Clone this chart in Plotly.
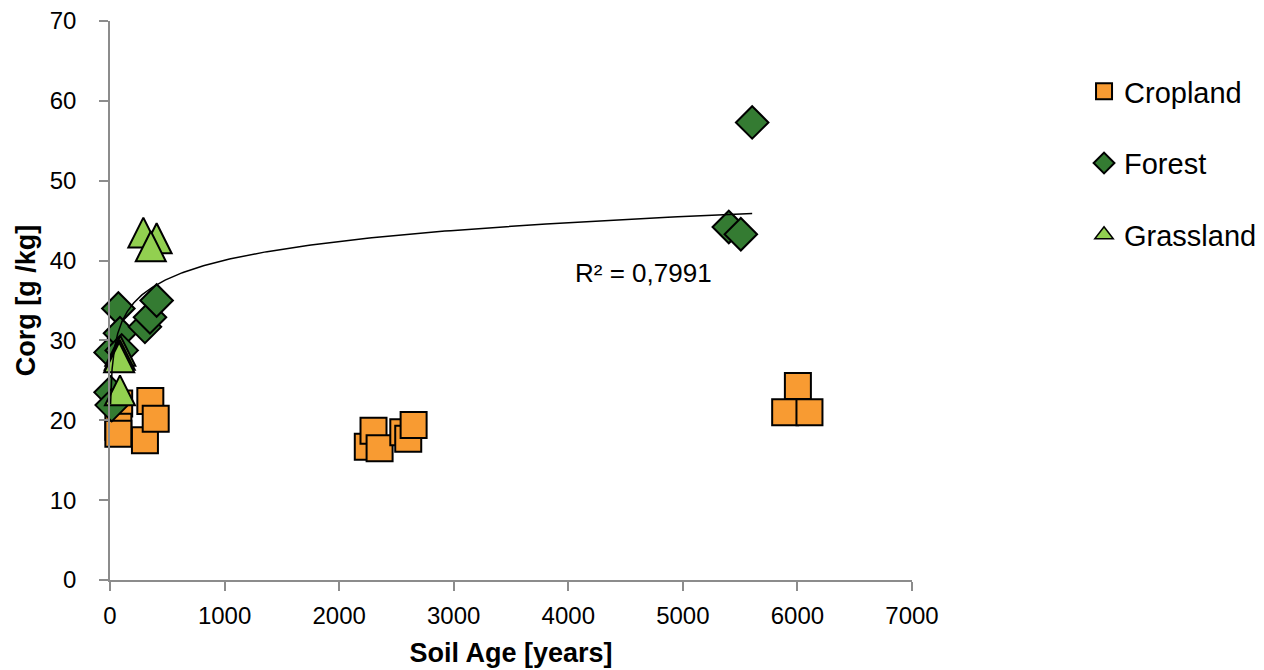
import numpy as np
import plotly.graph_objects as go

# ---- data ----
crop_age = [80, 73, 73, 305, 352, 399, 2250, 2300, 2353, 2560, 2603, 2650, 5893, 6004, 6105]
crop_corg = [22.1, 19.2, 18.3, 17.5, 22.4, 20.2, 16.7, 18.7, 16.5, 18.5, 17.7, 19.4, 21.0, 24.3, 21.0]

forest_age = [5, 5, 15, 73, 87, 102, 305, 349, 407, 5401, 5506, 5605]
forest_corg = [28.5, 23.5, 21.9, 34.0, 30.9, 28.75, 31.7, 32.9, 35.0, 44.2, 43.3, 57.3]

grass_age = [291, 407, 356, 90, 85, 80, 87]
grass_corg = [43.5, 42.8, 41.8, 28.7, 28.2, 27.9, 23.75]

x_ticks = [0, 1000, 2000, 3000, 4000, 5000, 6000, 7000]
y_ticks = [0, 10, 20, 30, 40, 50, 60, 70]
r2_label = "R² = 0,7991"

FONT = "Liberation Sans, Arial, sans-serif"
AXIS_COLOR = "#8c8c8c"
C_CROP, C_FOREST, C_GRASS = "#F89B32", "#347B32", "#92D050"

fig = go.Figure()

fig.add_trace(go.Scatter(
    x=crop_age, y=crop_corg, mode="markers", name="Cropland",
    marker=dict(symbol="square", size=26, color=C_CROP,
                line=dict(color="black", width=2)),
    cliponaxis=False, legendgroup="c",
))
fig.add_trace(go.Scatter(
    x=forest_age, y=forest_corg, mode="markers", name="Forest",
    marker=dict(symbol="diamond", size=25, color=C_FOREST,
                line=dict(color="black", width=2)),
    cliponaxis=False, legendgroup="f",
))
# grassland points: tall centred triangles (arrow shape turned upward)
fig.add_trace(go.Scatter(
    x=grass_age, y=grass_corg, mode="markers", name="Grassland",
    marker=dict(symbol="arrow-down", angle=180, standoff=15, size=30,
                color=C_GRASS, line=dict(color="black", width=2)),
    cliponaxis=False, legendgroup="g", showlegend=False,
))
# legend entry for grassland
fig.add_trace(go.Scatter(
    x=[None], y=[None], mode="markers", name="Grassland",
    marker=dict(symbol="triangle-up", size=18, color=C_GRASS,
                line=dict(color="black", width=1.5)),
    legendgroup="g", showlegend=True, hoverinfo="skip",
))

# logarithmic trendline of the Forest series
lx = np.log(np.array(forest_age, dtype=float))
a, b = np.polyfit(lx, np.array(forest_corg), 1)
xt = np.geomspace(min(forest_age), max(forest_age), 400)
fig.add_trace(go.Scatter(
    x=xt, y=a * np.log(xt) + b, mode="lines", showlegend=False,
    line=dict(color="black", width=1.5), hoverinfo="skip", cliponaxis=False,
))

fig.add_annotation(x=4660, y=38.5, text=r2_label, showarrow=False,
                   font=dict(family=FONT, size=26, color="black"))

# the page body adds an 8px offset, so the figure is 8px smaller on each side
fig.update_layout(
    width=1256, height=662,
    margin=dict(l=102, r=352, t=13, b=90, autoexpand=False),
    paper_bgcolor="white", plot_bgcolor="white",
    font=dict(family=FONT, color="black"),
    showlegend=True,
    legend=dict(
        x=1.2145, xanchor="left", y=0.9195, yanchor="top",
        font=dict(family=FONT, size=29, color="black"),
        traceorder="grouped", tracegroupgap=31,
        itemsizing="trace", bgcolor="rgba(0,0,0,0)",
    ),
    xaxis=dict(
        range=[0, 7000], tickvals=x_ticks, ticktext=[str(v) for v in x_ticks],
        showgrid=False, zeroline=False, showline=True, linecolor=AXIS_COLOR,
        linewidth=1.5, ticks="outside", ticklen=9, tickcolor=AXIS_COLOR,
        tickwidth=1.5, tickfont=dict(family=FONT, size=24, color="black"),
        ticklabelstandoff=4, automargin=False, ticklabeloverflow="allow",
        title=dict(text="<b>Soil Age [years]</b>", standoff=16,
                   font=dict(family=FONT, size=27, color="black")),
    ),
    yaxis=dict(
        range=[0, 70], tickvals=y_ticks, ticktext=[str(v) for v in y_ticks],
        showgrid=False, zeroline=False, showline=True, linecolor=AXIS_COLOR,
        linewidth=1.5, ticks="outside", ticklen=9, tickcolor=AXIS_COLOR,
        tickwidth=1.5, tickfont=dict(family=FONT, size=24, color="black"),
        ticklabelstandoff=18, automargin=False, ticklabeloverflow="allow",
        title=dict(text="<b>Corg [g /kg]</b>", standoff=6,
                   font=dict(family=FONT, size=27, color="black")),
    ),
)

fig.write_html("out.html")
